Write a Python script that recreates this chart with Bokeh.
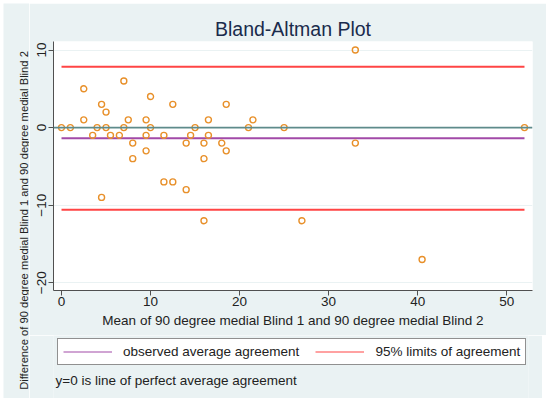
import math
from bokeh.plotting import figure
from bokeh.layouts import row, column
from bokeh.models import Range1d, Legend, LegendItem, Label, Span, FixedTicker
from bokeh.embed import file_html
from bokeh.resources import INLINE

# Data
mean_x = [0, 1, 2.5, 2.5, 3.5, 4, 4.5, 5, 5, 5.5, 6.5, 7, 7, 7.5, 8, 8,
          9.5, 9.5, 9.5, 10, 10, 11.5, 11.5, 12.5, 12.5, 4.5, 14, 14, 14.5, 15,
          16, 16, 16, 16.5, 16.5, 18, 18.5, 18.5, 21, 21.5, 25, 27, 33, 33, 40.5, 52]
diff_y = [0, 0, 5, 1, -1, 0, 3, 2, 0, -1, -1, 6, 0, 1, -2, -4,
          1, -1, -3, 4, 0, -1, -7, 3, -7, -9, -2, -8, -1, 0,
          -2, -4, -12, 1, -1, -2, 3, -3, 0, 1, 0, -12, 10, -2, -17, 0]
mean_diff = -1.38
upper_loa = 7.83
lower_loa = -10.58
x_ticks = [0, 10, 20, 30, 40, 50]
y_ticks = [-20, -10, 0, 10]

FONT = "Liberation Sans"
BG = "#eaf2f3"
AX = "#505050"
TXT = "#222222"
C_MEAN = "#a24aa8"
C_LOA = "#ff4545"

# ---- main plot ----
p = figure(frame_width=479, frame_height=249,
           x_range=Range1d(-0.9, 52.9), y_range=Range1d(-21.0, 11.1),
           output_backend="svg", toolbar_location=None,
           min_border_left=24, min_border_right=14, min_border_top=38, min_border_bottom=45,
           title="Bland-Altman Plot")
p.border_fill_color = BG
p.background_fill_color = "white"
p.outline_line_color = None

p.title.align = "center"
p.title.text_font = FONT
p.title.text_font_size = "19.5px"
p.title.text_font_style = "normal"
p.title.text_color = "#1a2b4c"
p.title.standoff = 3

p.xaxis.ticker = FixedTicker(ticks=x_ticks)
p.yaxis.ticker = FixedTicker(ticks=y_ticks)
for ax in (p.xaxis, p.yaxis):
    ax.axis_line_color = AX
    ax.major_tick_line_color = AX
    ax.minor_tick_line_color = None
    ax.major_tick_out = 5
    ax.major_tick_in = 0
    ax.major_label_text_font = FONT
    ax.major_label_text_font_size = "13.5px"
    ax.major_label_text_color = TXT
p.yaxis.major_label_orientation = "vertical"
p.yaxis.major_label_standoff = 2
p.xaxis.major_label_standoff = 1
p.xaxis.axis_label = "Mean of 90 degree medial Blind 1 and 90 degree medial Blind 2"
p.xaxis.axis_label_text_font = FONT
p.xaxis.axis_label_text_font_size = "13.5px"
p.xaxis.axis_label_text_font_style = "normal"
p.xaxis.axis_label_text_color = TXT
p.xaxis.axis_label_standoff = 4

p.xgrid.grid_line_color = None
p.ygrid.grid_line_color = BG
p.ygrid.grid_line_width = 1.2

p.add_layout(Span(location=0, dimension="width", line_color="#5e8b8b", line_width=1.6))

xmin, xmax = min(mean_x), max(mean_x)
p.line([xmin, xmax], [mean_diff, mean_diff], line_color=C_MEAN, line_width=2)
p.line([xmin, xmax], [upper_loa, upper_loa], line_color=C_LOA, line_width=2)
p.line([xmin, xmax], [lower_loa, lower_loa], line_color=C_LOA, line_width=2)

p.scatter(mean_x, diff_y, marker="circle", size=6, fill_color=None,
          line_color="#e8902a", line_width=1.4)

# ---- legend + note strip (frame aligned with the main plot's frame) ----
b = figure(width=513, height=63, x_range=Range1d(0, 1), y_range=Range1d(0, 1),
           x_axis_type=None, y_axis_type=None, output_backend="svg",
           toolbar_location=None, min_border=0)
b.border_fill_color = BG
b.background_fill_color = BG
b.outline_line_color = None
b.grid.visible = False
# legend sample renderers (their values lie outside this strip's ranges, so only the legend shows them)
r_mean = b.line([xmin, xmax], [mean_diff, mean_diff], line_color=C_MEAN, line_width=1.2)
r_loa = b.line([xmin, xmax], [upper_loa, upper_loa], line_color=C_LOA, line_width=1.2)
legend = Legend(items=[LegendItem(label="observed average agreement", renderers=[r_mean]),
                       LegendItem(label="95% limits of agreement", renderers=[r_loa])],
                orientation="horizontal", location=(4, 33),
                glyph_width=49, glyph_height=15, label_height=15,
                label_standoff=11, spacing=16, padding=5, margin=0,
                border_line_color=TXT, border_line_width=1,
                background_fill_color="white", background_fill_alpha=1,
                label_text_font=FONT, label_text_font_size="13.5px",
                label_text_color=TXT)
b.add_layout(legend)
b.add_layout(Label(x=2, y=18, x_units="screen", y_units="screen",
                   text="y=0 is line of perfect average agreement",
                   text_baseline="middle", text_align="left",
                   text_font=FONT, text_font_size="13.5px", text_color=TXT))

# ---- y-axis title strip (centred on the whole graph region) ----
yl = figure(width=26, height=395, x_range=Range1d(0, 1), y_range=Range1d(0, 1),
            x_axis_type=None, y_axis_type=None, output_backend="svg",
            toolbar_location=None, min_border=0)
yl.border_fill_color = BG
yl.background_fill_color = BG
yl.outline_line_color = None
yl.grid.visible = False
yl.add_layout(Label(x=20, y=178, x_units="screen", y_units="screen",
                    text="Difference of 90 degree medial Blind 1 and 90 degree medial Blind 2",
                    angle=math.pi / 2, text_align="center", text_baseline="middle",
                    text_font=FONT, text_font_size="11.2px", text_color=TXT))

layout = row(yl, column(p, b, spacing=0), spacing=0, margin=(3, 0, 0, 3))

open("out.html", "w").write(file_html(layout, INLINE))
